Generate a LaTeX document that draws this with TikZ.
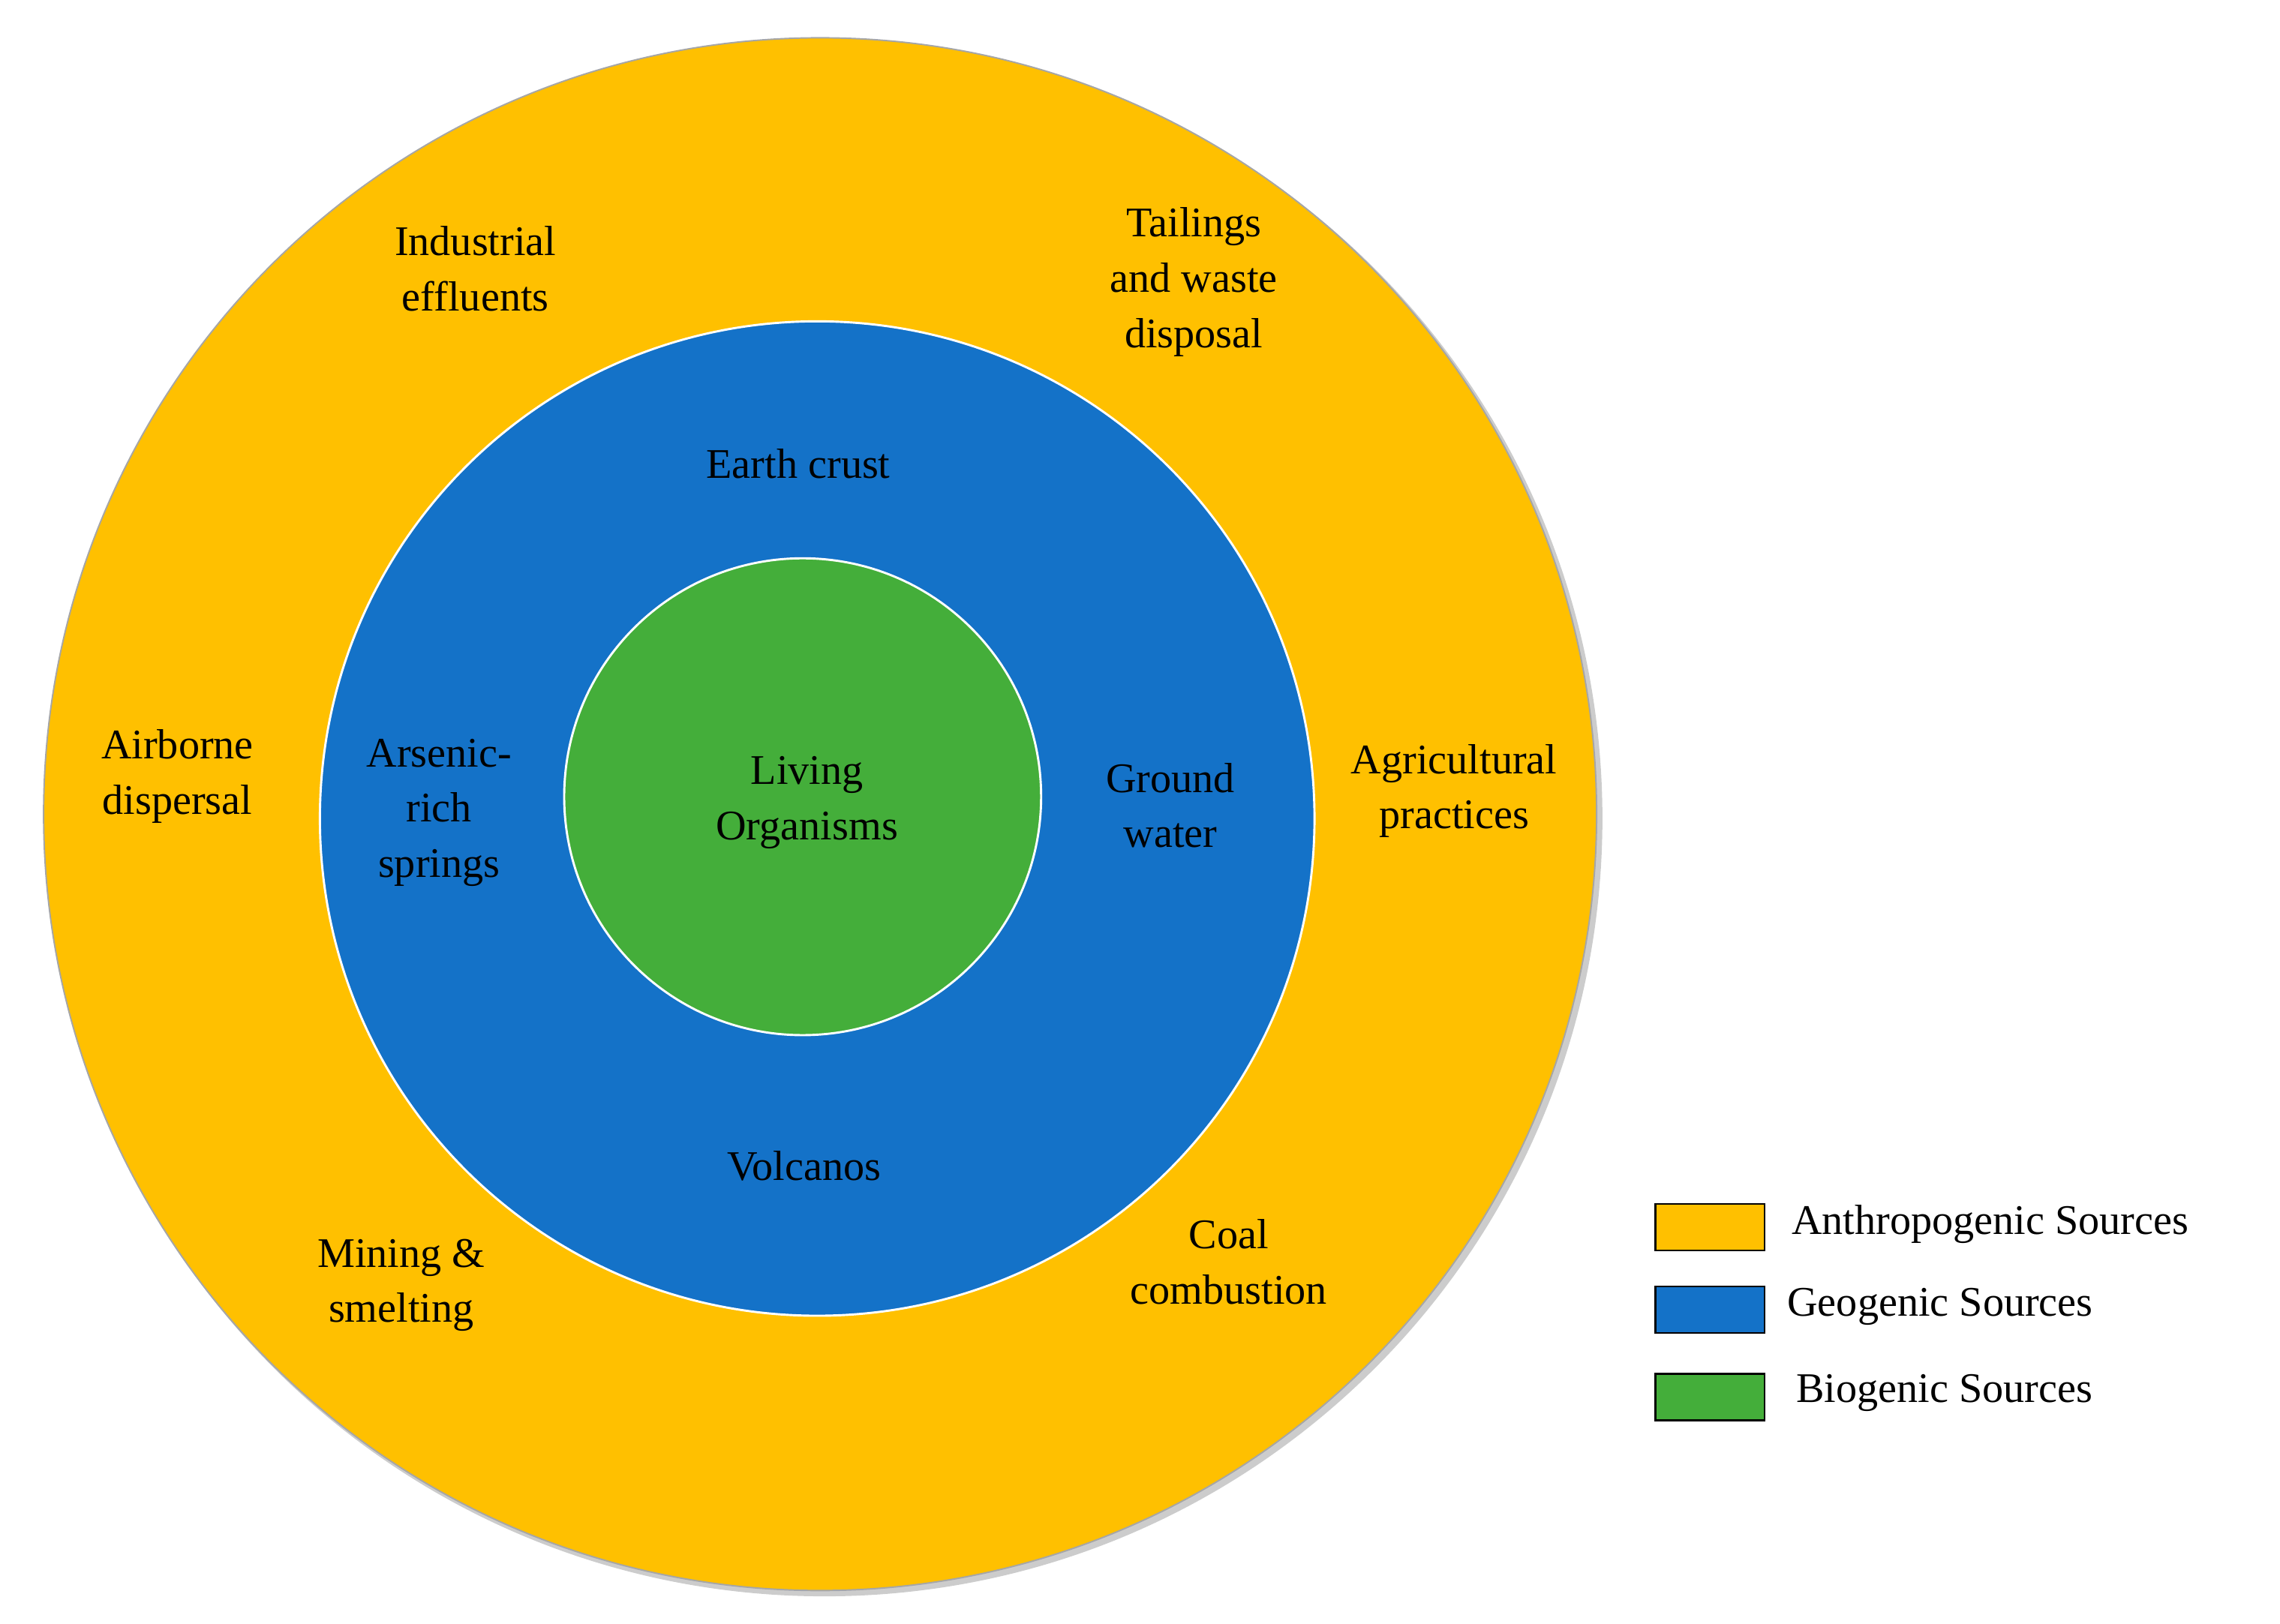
\documentclass[tikz,border=0pt]{standalone}
\usepackage{fontspec}
\setmainfont{Liberation Serif}
\definecolor{anth}{RGB}{255,192,0}
\definecolor{geo}{RGB}{20,114,200}
\definecolor{bio}{RGB}{68,174,58}
\begin{document}
\begin{tikzpicture}[x=1pt,y=-1pt,
  lbl/.style={align=center,font=\fontsize{29}{38}\selectfont,inner sep=0pt},
  key/.style={draw=black,line width=1.2pt,minimum width=75pt,minimum height=32pt,inner sep=0pt},
  ktxt/.style={anchor=west,font=\fontsize{29}{36}\selectfont,inner sep=0pt}]
\useasboundingbox (0,0) rectangle (1568,1117);
\fill[gray!40] (567,563) circle (535);
\node[circle,fill=anth,draw=gray!70,line width=1pt,minimum size=1068pt,inner sep=0pt] (outer) at (564,560) {};
\node[circle,fill=geo,draw=white,line width=1.5pt,minimum size=684pt,inner sep=0pt] (mid) at (562,563) {};
\node[circle,fill=bio,draw=white,line width=1.5pt,minimum size=328pt,inner sep=0pt] (inner) at (552,548) {};
\node[lbl] (lo) at (555,552) {Living\\Organisms};
\node[lbl] (ec) at (549,319) {Earth crust};
\node[lbl] (ar) at (302,559) {Arsenic-\\rich\\springs};
\node[lbl] (gw) at (805,554) {Ground\\water};
\node[lbl] (vo) at (553,802) {Volcanos};
\node[lbl] (ie) at (327,185) {Industrial\\effluents};
\node[lbl] (tw) at (821,194) {Tailings\\and waste\\disposal};
\node[lbl] (ad) at (122,534) {Airborne\\dispersal};
\node[lbl] (ap) at (1000,544) {Agricultural\\practices};
\node[lbl] (ms) at (276,884) {Mining \&\\smelting};
\node[lbl] (cc) at (845,868) {Coal\\combustion};
\node[key,fill=anth] (k1) at (1176,844) {};
\node[key,fill=geo] (k2) at (1176,901) {};
\node[key,fill=bio] (k3) at (1176,961) {};
\node[ktxt] (t1) at (1232,842) {Anthropogenic Sources};
\node[ktxt] (t2) at (1229,899) {Geogenic Sources};
\node[ktxt] (t3) at (1235,958) {Biogenic Sources};
\end{tikzpicture}
\end{document}
